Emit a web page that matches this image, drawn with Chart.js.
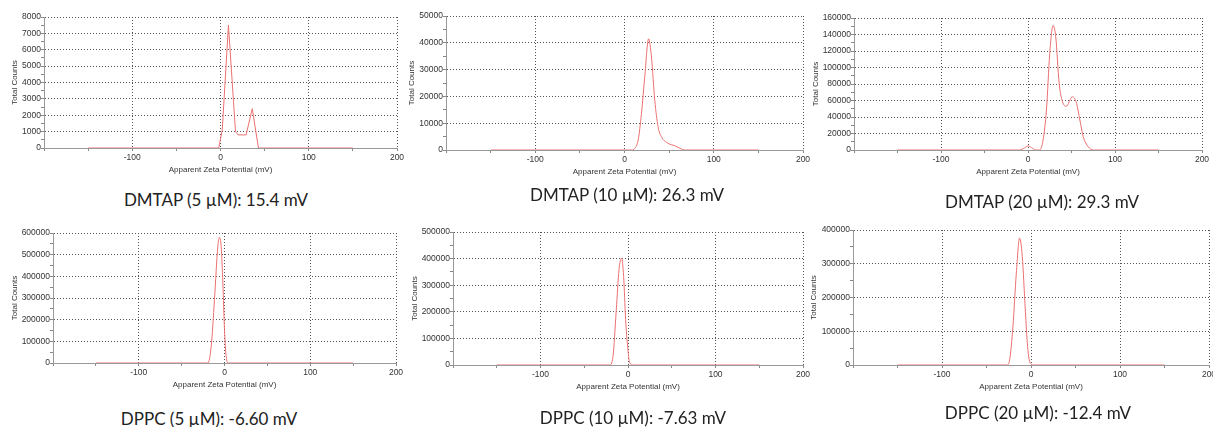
<!DOCTYPE html>
<html><head><meta charset="utf-8">
<script src="https://cdn.jsdelivr.net/npm/chart.js@4.4.0/dist/chart.umd.min.js"></script>
<style>
html,body{margin:0;padding:0;background:#fff;width:1213px;height:427px;overflow:hidden;position:relative}
canvas{position:absolute}
.cap{position:absolute;font-family:Lato,sans-serif;font-size:17px;color:#222;white-space:nowrap;transform:translate(-50%,-50%)}
</style></head><body>
<script>
// ---- data ----
const xTickLabels = [-100, 0, 100, 200];

const zetaDMTAP5   = [-150, -2, 2, 9, 17, 20, 29, 36, 43, 150];
const countsDMTAP5 = [0, 0, 1100, 7500, 1000, 800, 800, 2400, 0, 0];

const zetaDMTAP10   = [-150, 0, 8, 11.5, 15.3, 19, 22.7, 27, 30.2, 33.9, 37.6, 41.3, 48.8, 56.2, 63.7, 67, 150];
const countsDMTAP10 = [0, 0, 0, 600, 3700, 13600, 27300, 41500, 34700, 18600, 8700, 5000, 2500, 1600, 400, 0, 0];

const zetaDMTAP20   = [-150, -10, -4, 0, 4, 9, 13.5, 17.3, 21.2, 25, 28.8, 31.9, 35.8, 39.6, 44, 51, 55.8, 59.6, 63.5, 69.2, 75, 150];
const countsDMTAP20 = [0, 0, 2500, 5000, 3000, 0, 0, 12000, 48600, 117000, 151000, 137000, 81000, 58700, 53000, 64500, 56700, 36400, 16200, 4000, 0, 0];

const zetaDPPC5   = [-150, -19.4, -15.5, -11.7, -7.8, -5.8, -3.9, -1.9, 0, 1.9, 4.7, 150];
const countsDPPC5 = [0, 0, 77000, 292000, 538000, 580000, 538000, 369000, 154000, 31000, 0, 0];

const zetaDPPC10   = [-150, -21, -17.2, -13.4, -10.3, -7.3, -5, -2.7, -0.4, 1.9, 5.7, 150];
const countsDPPC10 = [0, 0, 31000, 207000, 358000, 402000, 333000, 170000, 69000, 9000, 0, 0];

const zetaDPPC20   = [-150, -27, -24, -20.3, -16.5, -12.8, -9.8, -6.4, -3.8, -0.8, 3, 150];
const countsDPPC20 = [0, 0, 15000, 114000, 272000, 376000, 322000, 163000, 54000, 5000, 0, 0];

const yMaxes      = [8000, 50000, 160000, 600000, 500000, 400000];
const yLabelSteps = [1000, 10000, 20000, 100000, 100000, 100000];

const captions = [
  "DMTAP (5 µM): 15.4 mV", "DMTAP (10 µM): 26.3 mV", "DMTAP (20 µM): 29.3 mV",
  "DPPC (5 µM): -6.60 mV", "DPPC (10 µM): -7.63 mV", "DPPC (20 µM): -12.4 mV"
];

// ---- layout (page pixel positions of each plot area) ----
const layouts = [
  {L:44,  R:397,  T:17,  B:148, titleX:15,  smooth:false, capX:216,  capY:199},
  {L:446, R:803,  T:16,  B:150, titleX:412, smooth:true,  capX:627,  capY:194},
  {L:854, R:1202, T:18,  B:150, titleX:816, smooth:true,  capX:1042, capY:201},
  {L:53,  R:396,  T:233, B:363, titleX:15,  smooth:true,  capX:209,  capY:418},
  {L:453, R:803,  T:232, B:365, titleX:415, smooth:true,  capX:633,  capY:417},
  {L:853, R:1209, T:230, B:365, titleX:814, smooth:true,  capX:1038, capY:412}
];
const series = [
  [zetaDMTAP5, countsDMTAP5], [zetaDMTAP10, countsDMTAP10], [zetaDMTAP20, countsDMTAP20],
  [zetaDPPC5, countsDPPC5], [zetaDPPC10, countsDPPC10], [zetaDPPC20, countsDPPC20]
];

const TITLE_FS = 8, TICK_FS = 8.5, FONT = 'Liberation Sans, Arial, sans-serif';
const titleOff = TITLE_FS * 1.2 / 2 + 2;
const XH = 29;

layouts.forEach((p, i) => {
  const [zeta, counts] = series[i];
  const yMax = yMaxes[i], step = yLabelSteps[i];
  const cl = Math.round(p.titleX - titleOff);
  const ct = p.T - 6;
  const yW = p.L - cl;
  const cw = p.R - cl + 12;
  const ch = p.B + XH - ct;
  const cv = document.createElement('canvas');
  cv.width = cw; cv.height = ch;
  cv.style.left = cl + 'px'; cv.style.top = ct + 'px';
  document.body.appendChild(cv);

  new Chart(cv, {
    type: 'line',
    data: {datasets: [{
      data: zeta.map((x, k) => ({x: x, y: counts[k]})),
      borderColor: 'rgb(236,112,112)', borderWidth: 1, pointRadius: 0, fill: false,
      tension: p.smooth ? 0.4 : 0, cubicInterpolationMode: p.smooth ? 'monotone' : 'default'
    }]},
    options: {
      responsive: false, animation: false, devicePixelRatio: 1,
      layout: {padding: {left: 0, top: 6, right: 12, bottom: 0}},
      plugins: {legend: {display: false}, tooltip: {enabled: false}},
      scales: {
        x: {
          type: 'linear', min: -200, max: 200,
          ticks: {stepSize: 50, autoSkip: false, maxRotation: 0, minRotation: 0, padding: 2, color: '#333',
                  font: {family: FONT, size: TICK_FS},
                  callback: v => xTickLabels.includes(v) ? String(v) : ''},
          grid: {color: c => (c.tick && c.tick.value % 100 === 0 && c.tick.value !== -200) ? '#555' : 'rgba(0,0,0,0)',
                 tickColor: '#888', tickLength: 3, lineWidth: 1, tickBorderDash: []},
          border: {display: true, color: '#999', width: 1, dash: [1, 2]},
          title: {display: true, text: 'Apparent Zeta Potential (mV)', color: '#333',
                  font: {family: FONT, size: TITLE_FS}, padding: {top: 0, bottom: 2}},
          afterFit: s => { s.height = XH; }
        },
        y: {
          type: 'linear', min: 0, max: yMax,
          ticks: {stepSize: step / 2, autoSkip: false, padding: 0, color: '#333',
                  font: {family: FONT, size: TICK_FS},
                  callback: v => (v % step === 0) ? String(v) : ''},
          grid: {color: c => (c.tick && c.tick.value % step === 0 && c.tick.value !== 0) ? '#555' : 'rgba(0,0,0,0)',
                 tickColor: '#888', tickLength: 3, lineWidth: 1, tickBorderDash: []},
          border: {display: true, color: '#999', width: 1, dash: [1, 2]},
          title: {display: true, text: 'Total Counts', color: '#333',
                  font: {family: FONT, size: TITLE_FS}, padding: {top: 2, bottom: 0}},
          afterFit: s => { s.width = yW; }
        }
      }
    }
  });

  const d = document.createElement('div');
  d.className = 'cap';
  d.textContent = captions[i];
  d.style.left = p.capX + 'px';
  d.style.top = p.capY + 'px';
  document.body.appendChild(d);
});
</script>
</body></html>
